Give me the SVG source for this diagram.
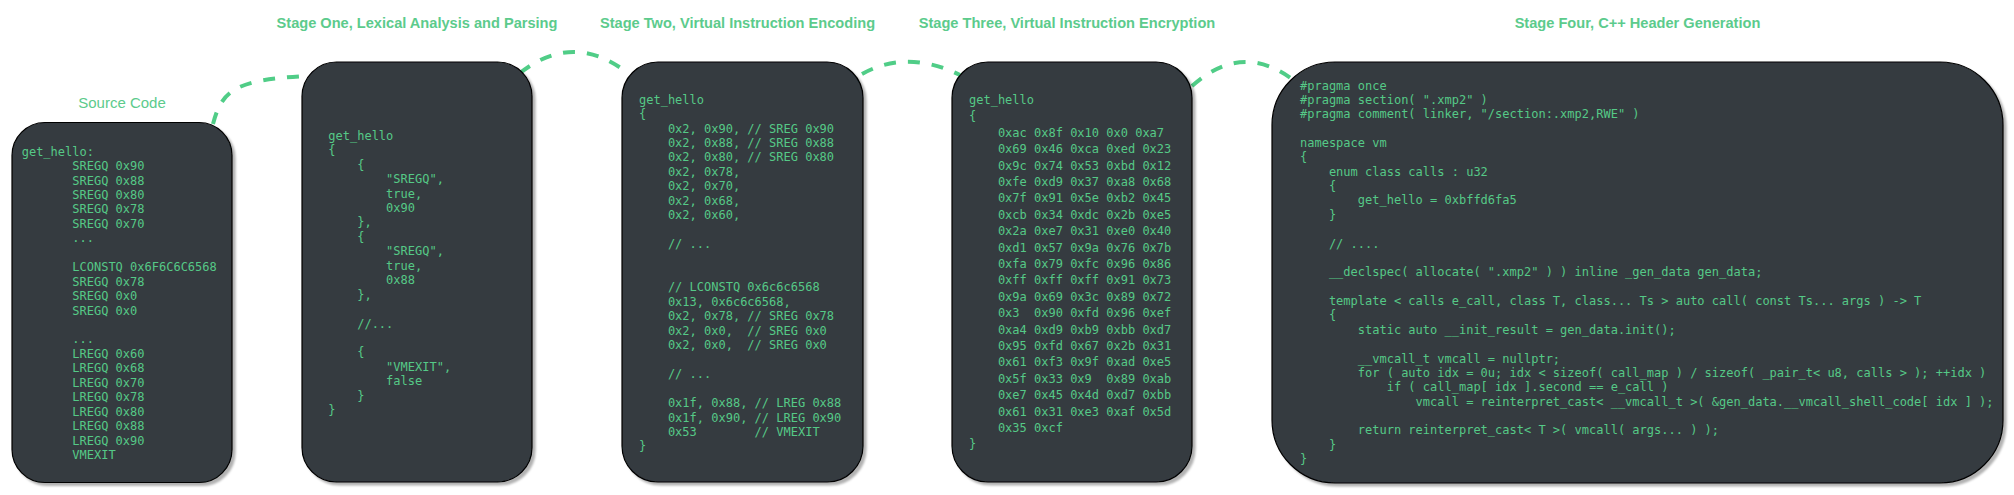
<svg xmlns="http://www.w3.org/2000/svg" width="2014" height="495" viewBox="0 0 2014 495">
<defs>
<filter id="sh" x="-5%" y="-5%" width="115%" height="115%"><feDropShadow dx="3" dy="3" stdDeviation="1.2" flood-color="#000" flood-opacity="0.3"/></filter>
<style>
.box{fill:#343a40;stroke:#000;stroke-width:1.2;filter:url(#sh)}
.code{font-family:"DejaVu Sans Mono","Liberation Mono",monospace;font-size:12px;fill:#55c987}
.title{font-family:"Liberation Sans",Arial,sans-serif;font-size:14.6px;font-weight:bold;fill:#5ccb8c;text-anchor:middle}
.label{font-family:"Liberation Sans",Arial,sans-serif;font-size:15px;fill:#5ccb8c;text-anchor:middle}
.conn{fill:none;stroke:#50cd87;stroke-width:4;stroke-dasharray:12 12}
</style>
</defs>
<rect width="2014" height="495" fill="#fff"/>
<g id="connectors">
<path class="conn" d="M 213 124 C 222 90, 235 80, 306 76"/>
<path class="conn" d="M 520 73 Q 572 32 625 71"/>
<path class="conn" d="M 862 74 Q 907 49 960 75"/>
<path class="conn" d="M 1192 86 Q 1243 40 1296 82"/>
</g>
<g id="source-code">
<text class="label" x="122" y="108">Source Code</text>
<rect class="box" x="12" y="122.5" width="220" height="360" rx="33" ry="33"/>
<text class="code" xml:space="preserve" x="21.7"><tspan x="21.7" y="155.6">get_hello:</tspan><tspan x="21.7" y="170.05">       SREGQ 0x90</tspan><tspan x="21.7" y="184.5">       SREGQ 0x88</tspan><tspan x="21.7" y="198.95">       SREGQ 0x80</tspan><tspan x="21.7" y="213.4">       SREGQ 0x78</tspan><tspan x="21.7" y="227.85">       SREGQ 0x70</tspan><tspan x="21.7" y="242.3">       ...</tspan><tspan x="21.7" y="271.2">       LCONSTQ 0x6F6C6C6568</tspan><tspan x="21.7" y="285.65">       SREGQ 0x78</tspan><tspan x="21.7" y="300.1">       SREGQ 0x0</tspan><tspan x="21.7" y="314.55">       SREGQ 0x0</tspan><tspan x="21.7" y="343.45">       ...</tspan><tspan x="21.7" y="357.9">       LREGQ 0x60</tspan><tspan x="21.7" y="372.35">       LREGQ 0x68</tspan><tspan x="21.7" y="386.8">       LREGQ 0x70</tspan><tspan x="21.7" y="401.25">       LREGQ 0x78</tspan><tspan x="21.7" y="415.7">       LREGQ 0x80</tspan><tspan x="21.7" y="430.15">       LREGQ 0x88</tspan><tspan x="21.7" y="444.6">       LREGQ 0x90</tspan><tspan x="21.7" y="459.05">       VMEXIT</tspan></text>
</g>
<g id="stage-one">
<text class="title" x="417" y="28">Stage One, Lexical Analysis and Parsing</text>
<rect class="box" x="302" y="62" width="230" height="420" rx="34.5" ry="34.5"/>
<text class="code" xml:space="preserve" x="328.3"><tspan x="328.3" y="139.7">get_hello</tspan><tspan x="328.3" y="154.15">{</tspan><tspan x="328.3" y="168.6">    {</tspan><tspan x="328.3" y="183.05">        "SREGQ",</tspan><tspan x="328.3" y="197.5">        true,</tspan><tspan x="328.3" y="211.95">        0x90</tspan><tspan x="328.3" y="226.4">    },</tspan><tspan x="328.3" y="240.85">    {</tspan><tspan x="328.3" y="255.3">        "SREGQ",</tspan><tspan x="328.3" y="269.75">        true,</tspan><tspan x="328.3" y="284.2">        0x88</tspan><tspan x="328.3" y="298.65">    },</tspan><tspan x="328.3" y="327.55">    //...</tspan><tspan x="328.3" y="356.45">    {</tspan><tspan x="328.3" y="370.9">        "VMEXIT",</tspan><tspan x="328.3" y="385.35">        false</tspan><tspan x="328.3" y="399.8">    }</tspan><tspan x="328.3" y="414.25">}</tspan></text>
</g>
<g id="stage-two">
<text class="title" x="737.5" y="28">Stage Two, Virtual Instruction Encoding</text>
<rect class="box" x="622" y="62" width="241" height="420" rx="36" ry="36"/>
<text class="code" xml:space="preserve" x="639"><tspan x="639" y="103.6">get_hello</tspan><tspan x="639" y="118.05">{</tspan><tspan x="639" y="132.5">    0x2, 0x90, // SREG 0x90</tspan><tspan x="639" y="146.95">    0x2, 0x88, // SREG 0x88</tspan><tspan x="639" y="161.4">    0x2, 0x80, // SREG 0x80</tspan><tspan x="639" y="175.85">    0x2, 0x78,</tspan><tspan x="639" y="190.3">    0x2, 0x70,</tspan><tspan x="639" y="204.75">    0x2, 0x68,</tspan><tspan x="639" y="219.2">    0x2, 0x60,</tspan><tspan x="639" y="248.1">    // ...</tspan><tspan x="639" y="291.45">    // LCONSTQ 0x6c6c6568</tspan><tspan x="639" y="305.9">    0x13, 0x6c6c6568,</tspan><tspan x="639" y="320.35">    0x2, 0x78, // SREG 0x78</tspan><tspan x="639" y="334.8">    0x2, 0x0,  // SREG 0x0</tspan><tspan x="639" y="349.25">    0x2, 0x0,  // SREG 0x0</tspan><tspan x="639" y="378.15">    // ...</tspan><tspan x="639" y="407.05">    0x1f, 0x88, // LREG 0x88</tspan><tspan x="639" y="421.5">    0x1f, 0x90, // LREG 0x90</tspan><tspan x="639" y="435.95">    0x53        // VMEXIT</tspan><tspan x="639" y="450.4">}</tspan></text>
</g>
<g id="stage-three">
<text class="title" x="1067" y="28">Stage Three, Virtual Instruction Encryption</text>
<rect class="box" x="952" y="62" width="240" height="420" rx="36" ry="36"/>
<text class="code" xml:space="preserve" x="969"><tspan x="969" y="103.9">get_hello</tspan><tspan x="969" y="120.3">{</tspan><tspan x="969" y="136.7">    0xac 0x8f 0x10 0x0 0xa7</tspan><tspan x="969" y="153.1">    0x69 0x46 0xca 0xed 0x23</tspan><tspan x="969" y="169.5">    0x9c 0x74 0x53 0xbd 0x12</tspan><tspan x="969" y="185.9">    0xfe 0xd9 0x37 0xa8 0x68</tspan><tspan x="969" y="202.3">    0x7f 0x91 0x5e 0xb2 0x45</tspan><tspan x="969" y="218.7">    0xcb 0x34 0xdc 0x2b 0xe5</tspan><tspan x="969" y="235.1">    0x2a 0xe7 0x31 0xe0 0x40</tspan><tspan x="969" y="251.5">    0xd1 0x57 0x9a 0x76 0x7b</tspan><tspan x="969" y="267.9">    0xfa 0x79 0xfc 0x96 0x86</tspan><tspan x="969" y="284.3">    0xff 0xff 0xff 0x91 0x73</tspan><tspan x="969" y="300.7">    0x9a 0x69 0x3c 0x89 0x72</tspan><tspan x="969" y="317.1">    0x3  0x90 0xfd 0x96 0xef</tspan><tspan x="969" y="333.5">    0xa4 0xd9 0xb9 0xbb 0xd7</tspan><tspan x="969" y="349.9">    0x95 0xfd 0x67 0x2b 0x31</tspan><tspan x="969" y="366.3">    0x61 0xf3 0x9f 0xad 0xe5</tspan><tspan x="969" y="382.7">    0x5f 0x33 0x9  0x89 0xab</tspan><tspan x="969" y="399.1">    0xe7 0x45 0x4d 0xd7 0xbb</tspan><tspan x="969" y="415.5">    0x61 0x31 0xe3 0xaf 0x5d</tspan><tspan x="969" y="431.9">    0x35 0xcf</tspan><tspan x="969" y="448.3">}</tspan></text>
</g>
<g id="stage-four">
<text class="title" x="1637.5" y="28">Stage Four, C++ Header Generation</text>
<rect class="box" x="1272" y="62" width="731" height="421" rx="63" ry="63"/>
<text class="code" xml:space="preserve" x="1300"><tspan x="1300" y="89.5">#pragma once</tspan><tspan x="1300" y="103.87">#pragma section( ".xmp2" )</tspan><tspan x="1300" y="118.24">#pragma comment( linker, "/section:.xmp2,RWE" )</tspan><tspan x="1300" y="146.98">namespace vm</tspan><tspan x="1300" y="161.35">{</tspan><tspan x="1300" y="175.72">    enum class calls : u32</tspan><tspan x="1300" y="190.09">    {</tspan><tspan x="1300" y="204.46">        get_hello = 0xbffd6fa5</tspan><tspan x="1300" y="218.83">    }</tspan><tspan x="1300" y="247.57">    // ....</tspan><tspan x="1300" y="276.31">    __declspec( allocate( ".xmp2" ) ) inline _gen_data gen_data;</tspan><tspan x="1300" y="305.05">    template &lt; calls e_call, class T, class... Ts &gt; auto call( const Ts... args ) -&gt; T</tspan><tspan x="1300" y="319.42">    {</tspan><tspan x="1300" y="333.79">        static auto __init_result = gen_data.init();</tspan><tspan x="1300" y="362.53">        __vmcall_t vmcall = nullptr;</tspan><tspan x="1300" y="376.9">        for ( auto idx = 0u; idx &lt; sizeof( call_map ) / sizeof( _pair_t&lt; u8, calls &gt; ); ++idx )</tspan><tspan x="1300" y="391.27">            if ( call_map[ idx ].second == e_call )</tspan><tspan x="1300" y="405.64">                vmcall = reinterpret_cast&lt; __vmcall_t &gt;( &amp;gen_data.__vmcall_shell_code[ idx ] );</tspan><tspan x="1300" y="434.38">        return reinterpret_cast&lt; T &gt;( vmcall( args... ) );</tspan><tspan x="1300" y="448.75">    }</tspan><tspan x="1300" y="463.12">}</tspan></text>
</g>
</svg>
